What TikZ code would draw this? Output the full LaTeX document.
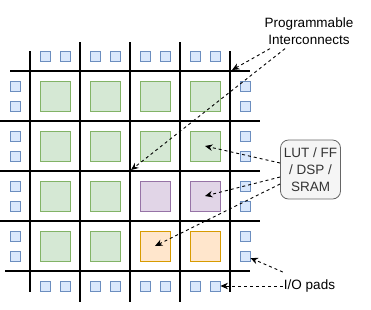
\documentclass[tikz,border=0pt]{standalone}
\usepackage{fontspec}
\setmainfont{Liberation Sans}
\usepackage{xcolor}
\usetikzlibrary{arrows.meta}
\definecolor{grnfill}{HTML}{D5E8D4}\definecolor{grnline}{HTML}{82B366}
\definecolor{purfill}{HTML}{E1D5E7}\definecolor{purline}{HTML}{9673A6}
\definecolor{orgfill}{HTML}{FFE6CC}\definecolor{orgline}{HTML}{D79B00}
\definecolor{padfill}{HTML}{DAE8FC}\definecolor{padline}{HTML}{6C8EBF}
\definecolor{boxfill}{HTML}{F5F5F5}\definecolor{boxline}{HTML}{666666}
\definecolor{boxtext}{HTML}{333333}
\tikzset{
  clb/.style={draw=grnline,fill=grnfill,minimum size=30pt,inner sep=0pt,line width=0.9pt},
  dsp/.style={clb,draw=purline,fill=purfill},
  bram/.style={clb,draw=orgline,fill=orgfill},
  pad/.style={draw=padline,fill=padfill,minimum size=10pt,inner sep=0pt,line width=0.9pt},
  wire/.style={line width=1.3pt},
  lbl/.style={align=center,inner sep=0pt,font=\fontsize{13.5}{17}\selectfont},
  callout/.style={dashed,dash pattern=on 3pt off 3pt,line width=0.9pt,
    -{Stealth[length=7.5pt,width=6.5pt]}}}
% block at column #1, row #2
\newcommand{\fblk}[3]{\node[#3] (b#2#1) at ({5+50*#1},{46+50*#2}) {};}
% pads round the border, two per cell
\newcommand{\fpads}[1]{%
  \node[pad] (tp#11) at ({-5+50*#1},56) {};
  \node[pad] (tp#12) at ({15+50*#1},56) {};
  \node[pad] (bp#11) at ({-5+50*#1},286) {};
  \node[pad] (bp#12) at ({15+50*#1},286) {};
  \node[pad] (lp#11) at (15,{36+50*#1}) {};
  \node[pad] (lp#12) at (15,{56+50*#1}) {};
  \node[pad] (rp#11) at (245,{36+50*#1}) {};
  \node[pad] (rp#12) at (245,{56+50*#1}) {};}

\begin{document}
\begin{tikzpicture}[x=1pt,y=-1pt]
  \useasboundingbox (0,0) rectangle (371,309);
  % routing grid
  \foreach \i in {80,130,180}{\draw[wire] (\i,42) -- (\i,302);}
  \foreach \i in {30,230}{\draw[wire] (\i,51) -- (\i,292);}
  \foreach \j in {121,171,221}{\draw[wire] (0,\j) -- (260,\j);}
  \draw[wire] (10,71) -- (250,71);
  \draw[wire] (5,271) -- (250,271);
  \coordinate (x41) at (232,70);
  \coordinate (x33) at (131,170);
  % logic blocks
  \foreach \c in {1,...,4}{\fblk{\c}{1}{clb} \fblk{\c}{2}{clb}}
  \fblk{1}{3}{clb} \fblk{2}{3}{clb} \fblk{3}{3}{dsp} \fblk{4}{3}{dsp}
  \fblk{1}{4}{clb} \fblk{2}{4}{clb} \fblk{3}{4}{bram} \fblk{4}{4}{bram}
  \foreach \c in {1,...,4}{\fpads{\c}}
  % labels
  \node[lbl] (prog) at (309,31) {Programmable\\Interconnects};
  \node[lbl,text=boxtext,draw=boxline,fill=boxfill,rounded corners=8pt,
    line width=0.8pt,minimum width=60pt,minimum height=59pt] (lut) at (310.5,169.5)
    {LUT / FF\\/ DSP /\\SRAM};
  \node[lbl] (io) at (309.5,286) {I/O pads};
  % callouts
  \draw[callout] ([xshift=-39pt,yshift=-4pt]prog.south) -- (x41);
  \draw[callout] ([xshift=-24pt,yshift=-4pt]prog.south) -- (x33);
  \draw[callout] ([yshift=6.5pt]lut.west) -- (b24.center);
  \draw[callout] ([yshift=-7.5pt]lut.west) -- (b34.center);
  \draw[callout] ([yshift=-14.5pt]lut.west) -- (b43.center);
  \draw[callout] ([xshift=-1pt,yshift=14pt]io.west) -- ([yshift=-2pt]rp42.east);
  \draw[callout] ([xshift=-1pt]io.west) -- (bp42.east);
\end{tikzpicture}
\end{document}
